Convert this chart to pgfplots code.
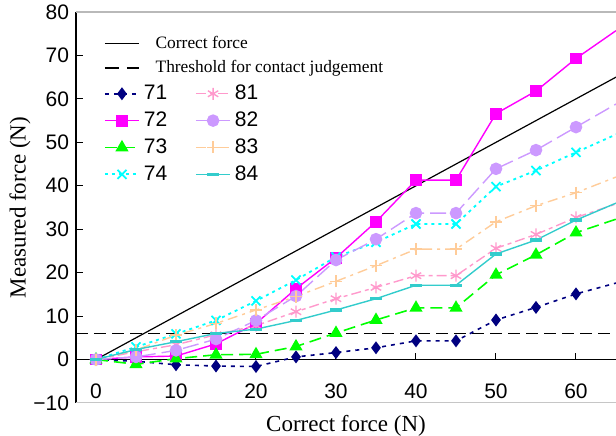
\documentclass[border=0pt]{standalone}
\usepackage{pgfplots}
\usepackage{pgfplotstable}
\pgfplotsset{compat=1.18}
\usepackage{fontspec}
\setmainfont{Liberation Serif}
\newfontfamily\arial{Liberation Sans}

\definecolor{c71}{RGB}{0,0,128}
\definecolor{c72}{RGB}{255,0,255}
\definecolor{c73}{RGB}{0,255,0}
\definecolor{c74}{RGB}{0,255,255}
\definecolor{c81}{RGB}{255,153,204}
\definecolor{c82}{RGB}{204,153,255}
\definecolor{c83}{RGB}{255,204,153}
\definecolor{c84}{RGB}{51,204,204}

% measured force per sensor vs correct force
\pgfplotstableread{
x   s71   s72   s73   s74   s81   s82   s83   s84
0   0     0     0     0     0     0     0     0
5   -0.4  0.6   -1.1  2.9   1.8   0.6   2.2   2.3
10  -1.2  0.8   0.2   5.9   3.4   2.1   5.6   4.1
15  -1.5  3.6   1.1   9.0   5.7   4.7   8.3   6.0
20  -1.6  8.3   1.2   13.5  7.8   9.0   11.4  7.0
25  0.6   16.3  3.0   18.3  11.0  14.6  14.5  9.0
30  1.6   23.4  6.1   23.6  14.0  22.9  18.0  11.4
35  2.7   31.7  9.1   27.0  16.6  27.7  21.6  14.0
40  4.3   41.3  11.9  31.2  19.3  33.7  25.4  17.1
45  4.3   41.3  11.9  31.2  19.3  33.7  25.4  17.1
50  9.1   56.6  19.5  39.8  25.6  43.9  31.7  24.3
55  12.0  61.8  24.1  43.5  28.8  48.2  35.4  27.5
60  15.1  69.3  29.2  47.7  32.7  53.5  38.4  32.1
65  17.6  75.7  32.3  51.8  35.8  58.8  42.0  36.0
}\forcedata

\pgfplotsset{
  st71/.style={c71, line width=0.8pt, dash pattern=on 2pt off 2.5pt, mark=diamond*, mark size=2.6pt, mark options={solid}},
  st72/.style={c72, line width=0.7pt, mark=square*, mark size=2.6pt, mark options={solid}},
  st73/.style={c73, line width=0.8pt, dash pattern=on 6pt off 3pt, mark=triangle*, mark size=3pt, mark options={solid}},
  st74/.style={c74, line width=0.9pt, dash pattern=on 1.5pt off 2pt, mark=x, mark size=3.2pt, mark options={solid}},
  st81/.style={c81, line width=0.7pt, dash pattern=on 5pt off 2pt on 2pt off 2pt, mark=asterisk, mark size=3pt, mark options={solid}},
  st82/.style={c82, line width=0.7pt, dash pattern=on 8pt off 3pt, mark=*, mark size=2.8pt, mark options={solid}},
  st83/.style={c83, line width=0.7pt, dash pattern=on 5pt off 2.5pt on 1.5pt off 2.5pt, mark=+, mark size=3pt, mark options={solid}},
  st84/.style={c84, line width=0.7pt, mark=-, mark size=3pt, mark options={solid, line width=1.6pt}},
  % the point at 65 lies on the cut edge: line only, no mark
  mk/.style={only marks, restrict x to domain=-1:61, forget plot},
}

\newcommand{\lt}[1]{\makebox[0pt][l]{\rmfamily\fontsize{8.7}{10}\selectfont #1}}
\newcommand{\series}[1]{%
  \addplot[st#1, mark=none, forget plot] table[x=x, y=s#1] {\forcedata};
  \addplot[st#1, mk] table[x=x, y=s#1] {\forcedata};
}

\begin{document}
\begin{tikzpicture}
\begin{axis}[
  scale only axis,
  width=270pt, height=195.5pt,
  xmin=-2.5, xmax=65, ymin=-10, ymax=80,
  axis x line*=middle, axis y line*=left,
  xtick={0,10,...,60}, ytick={-10,0,...,80},
  yticklabels={−10,0,10,20,30,40,50,60,70,80},
  tick align=inside,
  major tick length=3.5pt,
  tick style={black, line width=0.5pt},
  axis line style={black, line width=0.6pt},
  tick label style={font=\arial\fontsize{10.5}{12}\selectfont},
  /pgf/number format/assume math mode=true,
  xticklabel style={yshift=-8.5pt},
  every axis x label/.style={at={(axis description cs:0.5,0)}, anchor=center, yshift=-11.5pt, inner sep=0pt},
  every axis y label/.style={at={(axis description cs:0,0.5)}, xshift=-33.5pt, rotate=90, anchor=north, inner sep=0pt},
  label style={font=\rmfamily\fontsize{11.5}{13}\selectfont},
  xlabel={Correct force (N)},
  ylabel={Measured force (N)},
  legend columns=2,
  legend style={at={(0.04,0.96)}, anchor=north west, draw=none, fill=none,
    font=\arial\fontsize{10.5}{12}\selectfont, row sep=0.6pt,
    /tikz/every even column/.append style={column sep=12pt}},
]
% frame lines top/bottom
\draw[gray!55, line width=0.6pt] (rel axis cs:0,1) -- (rel axis cs:1,1);
\draw[gray!45, line width=1.2pt] (rel axis cs:0,0) -- (rel axis cs:1,0);
\coordinate (bbsw) at ([xshift=-38pt, yshift=-16.5pt] rel axis cs:0,0);
\coordinate (bbne) at ([yshift=6pt] rel axis cs:1,1);

\addplot[black, line width=0.6pt, forget plot] coordinates {(0,0) (65,65)};
\addplot[black, line width=0.8pt, dash pattern=on 6pt off 3pt, forget plot] coordinates {(-2.5,6) (65,6)};

\series{71}
\series{72}
\series{73}
\series{74}
\series{81}
\series{82}
\series{83}
\series{84}

% legend, row by row
\addlegendimage{black, line width=0.6pt}
\addlegendentry{\lt{Correct force}}
\addlegendimage{empty legend}
\addlegendentry{}
\addlegendimage{black, line width=0.8pt, dash pattern=on 7pt off 4pt}
\addlegendentry{\lt{Threshold for contact judgement}}
\addlegendimage{empty legend}
\addlegendentry{}
\addlegendimage{st71}\addlegendentry{71}
\addlegendimage{st81}\addlegendentry{81}
\addlegendimage{st72}\addlegendentry{72}
\addlegendimage{st82}\addlegendentry{82}
\addlegendimage{st73}\addlegendentry{73}
\addlegendimage{st83}\addlegendentry{83}
\addlegendimage{st74}\addlegendentry{74}
\addlegendimage{st84}\addlegendentry{84}
\end{axis}
\pgfresetboundingbox
\useasboundingbox (bbsw) rectangle (bbne);
\end{tikzpicture}
\end{document}
